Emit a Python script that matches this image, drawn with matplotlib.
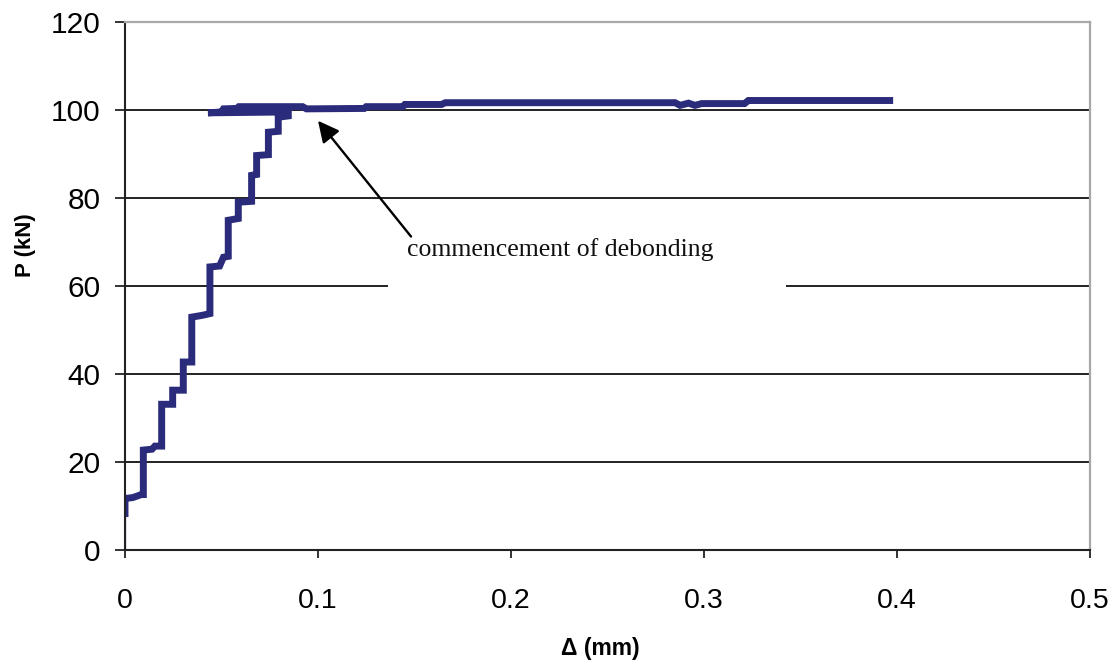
import matplotlib
matplotlib.use("Agg")
import matplotlib.pyplot as plt
from matplotlib.patches import Rectangle

# Load-displacement data (Δ in mm, P in kN)
delta_start = [0.0, 0.0]
p_start = [0.0, 7.5]

delta = [0.0, 0.0, 0.004, 0.0085, 0.0095, 0.0095, 0.014, 0.0155, 0.019, 0.019,
         0.0247, 0.0247, 0.0302, 0.0302, 0.0346, 0.0346, 0.040, 0.044, 0.044,
         0.049, 0.051, 0.0535, 0.0535, 0.0587, 0.0587, 0.0656, 0.0656, 0.0682,
         0.0682, 0.0743, 0.0743, 0.0794, 0.0794, 0.0846, 0.0846, 0.043,
         0.050, 0.051, 0.058, 0.059, 0.092, 0.094, 0.124, 0.125, 0.144, 0.145,
         0.164, 0.166, 0.285, 0.2876, 0.292, 0.2953, 0.2988, 0.321, 0.323, 0.398]
load = [7.5, 11.7, 11.9, 12.6, 12.6, 22.7, 22.9, 23.6, 23.6, 33.1,
        33.1, 36.3, 36.3, 42.7, 42.7, 52.9, 53.3, 53.7, 64.3,
        64.5, 66.5, 66.7, 74.9, 75.3, 79.0, 79.2, 85.1, 85.3,
        89.6, 89.8, 94.9, 95.1, 98.3, 98.6, 99.5, 99.3,
        99.5, 100.2, 100.3, 100.7, 100.7, 100.2, 100.3, 100.7, 100.7, 101.2,
        101.2, 101.6, 101.6, 101.0, 101.5, 101.0, 101.4, 101.4, 102.1, 102.1]

x_ticks = [0, 0.1, 0.2, 0.3, 0.4, 0.5]
x_tick_labels = ["0", "0.1", "0.2", "0.3", "0.4", "0.5"]
y_ticks = [0, 20, 40, 60, 80, 100, 120]
y_tick_labels = ["0", "20", "40", "60", "80", "100", "120"]

annotation_text = "commencement of debonding"
arrow_tip = (0.100, 97.5)
arrow_tail = (0.1482, 71.2)
text_pos = (0.1461, 66.7)
box_x = (0.1363, 0.3425)
box_y = (57.0, 76.0)

line_color = "#2b2b7b"

fig = plt.figure(figsize=(11.2, 6.64), dpi=100)
ax = fig.add_axes([125 / 1120, 1 - 550 / 664, (1090 - 125) / 1120, (550 - 21.7) / 664])

ax.set_xlim(0, 0.5)
ax.set_ylim(0, 120)

# gridlines
for yv in y_ticks[1:-1]:
    ax.axhline(yv, color="#222222", lw=1.4, zorder=0.5)

# white text box hiding the grid
ax.add_patch(Rectangle((box_x[0], box_y[0]), box_x[1] - box_x[0], box_y[1] - box_y[0],
                       facecolor="white", edgecolor="none", zorder=1))

ax.plot(delta_start, p_start, color=line_color, lw=1.6, zorder=2)
ax.plot(delta, load, color=line_color, lw=5.0, zorder=2,
        solid_joinstyle="miter", solid_capstyle="butt")

ax.annotate("", xy=arrow_tip, xytext=arrow_tail,
            arrowprops=dict(arrowstyle="-|>", color="black", lw=1.7, mutation_scale=32,
                            shrinkA=0, shrinkB=0), zorder=3)
ax.text(text_pos[0], text_pos[1], annotation_text, fontsize=18.5,
        family="Liberation Serif", color="#111111", ha="left", va="baseline", zorder=3)

for side in ["left", "bottom"]:
    ax.spines[side].set_color("#222222")
    ax.spines[side].set_linewidth(1.5)
for side in ["top", "right"]:
    ax.spines[side].set_color("#a8a8a8")
    ax.spines[side].set_linewidth(1.6)

ax.set_xticks(x_ticks)
ax.set_xticklabels(x_tick_labels, family="Liberation Sans", fontsize=20.5)
ax.set_yticks(y_ticks)
ax.set_yticklabels(y_tick_labels, family="Liberation Sans", fontsize=21.5)
ax.tick_params(axis="x", direction="out", length=6, width=1.3, pad=21, color="#222222")
ax.tick_params(axis="y", direction="out", length=7.5, width=1.3, pad=10, color="#222222")

ax.set_xlabel("\u0394 (mm)", family="Liberation Sans", fontsize=16.5, fontweight="bold")
ax.set_ylabel("P (kN)", family="Liberation Sans", fontsize=16, fontweight="bold")
ax.xaxis.set_label_coords(0.493, -0.164)
ax.yaxis.set_label_coords(-0.092, 0.577)

fig.savefig("out.png", dpi=100)
